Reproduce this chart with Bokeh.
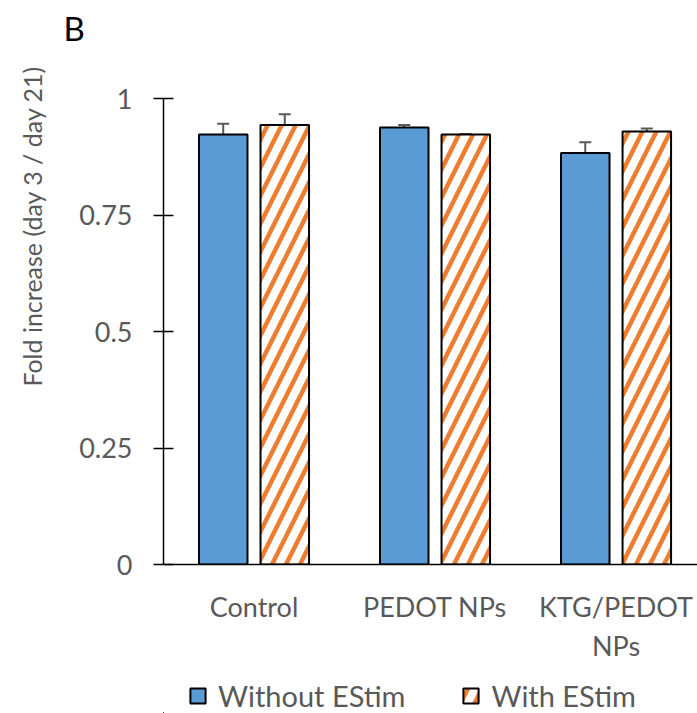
import math
from bokeh.plotting import figure
from bokeh.layouts import column
from bokeh.models import (ColumnDataSource, Range1d, FixedTicker, Whisker, TeeHead,
                          Title, Legend, LegendItem)
from bokeh.embed import file_html
from bokeh.resources import INLINE

# ---- data ----
categories = ["Control", "PEDOT NPs", "KTG/PEDOT\nNPs"]
without_estim = [0.923, 0.938, 0.883]
without_err = [0.023, 0.005, 0.023]
with_estim = [0.943, 0.923, 0.929]
with_err = [0.023, 0.001, 0.0065]
y_ticks = [0, 0.25, 0.5, 0.75, 1]
y_tick_labels = ["0", "0.25", "0.5", "0.75", "1"]
series_names = ["Without EStim", "With EStim"]
title_text = "B"
y_title = "Fold increase (day 3 / day 21)"

FONT = "Lato"
GRAY = "#595959"
BLUE = "#5B9BD5"
ORANGE = "#ED7D31"

centers = [i + 0.5 for i in range(len(categories))]
off = 0.170
bw = 0.268

src_a = ColumnDataSource(dict(
    x=[c - off for c in centers], top=without_estim,
    upper=[v + e for v, e in zip(without_estim, without_err)],
    lower=[v - e for v, e in zip(without_estim, without_err)]))
src_b = ColumnDataSource(dict(
    x=[c + off for c in centers], top=with_estim,
    upper=[v + e for v, e in zip(with_estim, with_err)],
    lower=[v - e for v, e in zip(with_estim, with_err)]))

BAR_A = dict(fill_color=BLUE, line_color="black", line_width=2)
BAR_B = dict(fill_color="white", hatch_pattern="/", hatch_color=ORANGE,
             hatch_scale=28, hatch_weight=4.5, line_color="black", line_width=2)

p = figure(width=697, height=677, output_backend="svg", toolbar_location=None,
           x_range=Range1d(0, 2.95), y_range=Range1d(0, 1),
           min_border_left=163, min_border_right=0, min_border_top=98,
           min_border_bottom=113)
p.outline_line_color = None
p.grid.visible = False
p.background_fill_color = "white"
p.border_fill_color = "white"

p.vbar(x="x", top="top", width=bw, source=src_a, **BAR_A)
p.vbar(x="x", top="top", width=bw, source=src_b, **BAR_B)

for src in (src_a, src_b):
    w = Whisker(base="x", upper="upper", lower="lower", source=src,
                line_color=GRAY, line_width=2,
                upper_head=TeeHead(size=12, line_color=GRAY, line_width=2),
                lower_head=TeeHead(size=12, line_color=GRAY, line_width=2))
    p.add_layout(w)

# y axis
ya = p.yaxis[0]
ya.ticker = FixedTicker(ticks=y_ticks)
ya.major_label_overrides = {t: l for t, l in zip(y_ticks, y_tick_labels)}
ya.major_tick_in = 10
ya.major_tick_out = 10
ya.minor_tick_in = 0
ya.minor_tick_out = 0
ya.axis_line_color = "black"
ya.axis_line_width = 1.5
ya.major_tick_line_color = "black"
ya.major_tick_line_width = 1.5
ya.major_label_text_font = FONT
ya.major_label_text_font_size = "27px"
ya.major_label_text_color = GRAY
ya.major_label_standoff = 21

# x axis
xa = p.xaxis[0]
xa.ticker = FixedTicker(ticks=centers)
xa.major_label_overrides = {c: n for c, n in zip(centers, categories)}
xa.major_tick_in = 0
xa.major_tick_out = 0
xa.minor_tick_in = 0
xa.minor_tick_out = 0
xa.axis_line_color = "black"
xa.axis_line_width = 1.5
xa.major_label_text_font = FONT
xa.major_label_text_font_size = "27px"
xa.major_label_text_color = GRAY
xa.major_label_standoff = 25

# title "B" (trailing empty line lifts it towards the top of the canvas)
p.title = Title(text=title_text + "\n", align="left", offset=-100, standoff=6,
                text_font=FONT, text_font_size="33px", text_color="black",
                text_font_style="normal", text_line_height=1.2)
# y axis title as a left-side title (trailing empty line moves it outwards)
p.add_layout(Title(text=y_title + "\n", align="right", offset=-33, standoff=0,
                   text_font=FONT, text_font_size="25px", text_color=GRAY,
                   text_font_style="normal", text_line_height=1.0), "left")

# ---- legend strip (same sources; the view ranges keep the bars out of sight) ----
lg = figure(width=697, height=36, output_backend="svg", toolbar_location=None,
            x_axis_location=None, y_axis_location=None,
            x_range=Range1d(10, 11), y_range=Range1d(10, 11),
            min_border=0)
lg.outline_line_color = None
lg.grid.visible = False
la = lg.vbar(x="x", top="top", width=bw, source=src_a, **BAR_A)
lb = lg.vbar(x="x", top="top", width=bw, source=src_b, **BAR_B)
legend = Legend(items=[LegendItem(label=series_names[0], renderers=[la]),
                       LegendItem(label=series_names[1], renderers=[lb])],
                orientation="horizontal", location=(25, 0),
                label_text_font=FONT, label_text_font_size="29px",
                label_text_color=GRAY, glyph_width=19, glyph_height=19,
                label_standoff=11, spacing=56, padding=0, margin=0,
                border_line_color=None, background_fill_alpha=0)
lg.add_layout(legend)

layout = column(p, lg, spacing=0)
open("out.html", "w").write(file_html(layout, INLINE))
